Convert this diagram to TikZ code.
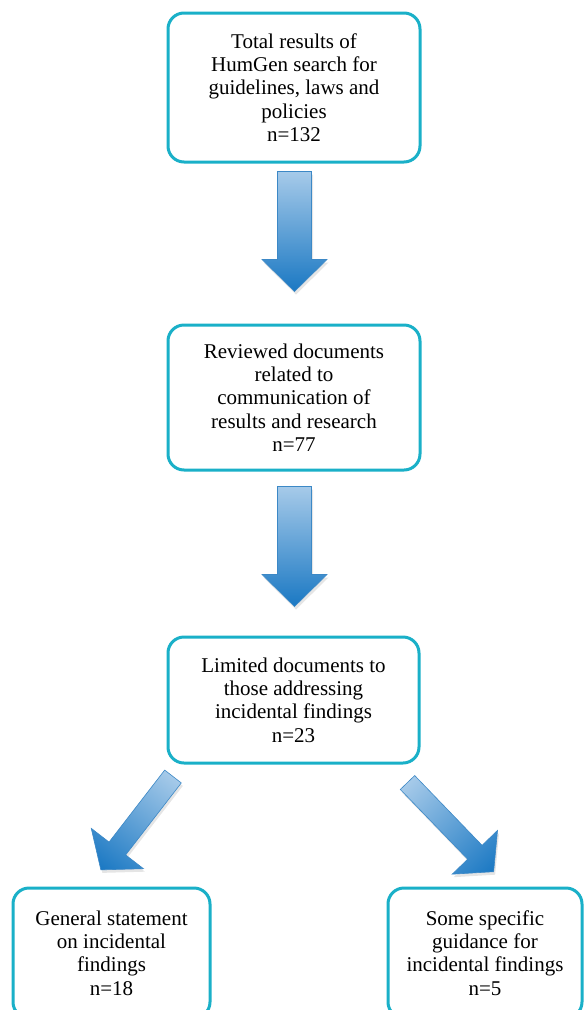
\documentclass[tikz,border=0pt]{standalone}
\usepackage{fontspec}
\setmainfont{Liberation Serif}
\usetikzlibrary{calc}
\definecolor{boxc}{HTML}{1AB0C8}
\definecolor{arlight}{HTML}{A6CAE9}
\definecolor{armid}{HTML}{5A9FD7}
\definecolor{ardark}{HTML}{1A78C3}
\definecolor{aredge}{HTML}{3C88C6}
\newcommand\blkarrow[6]{%
  \fill[black,opacity=0.10,transform canvas={shift={($(#1)+(1.5,-3)$)},rotate=#2}]
    (0,#4/2) -- (#3-#6,#4/2) -- (#3-#6,#5/2) -- (#3,0) -- (#3-#6,-#5/2) -- (#3-#6,-#4/2) -- (0,-#4/2) -- cycle;
  \shade[arrowsty,transform canvas={shift={(#1)},rotate=#2}]
    (0,#4/2) -- (#3-#6,#4/2) -- (#3-#6,#5/2) -- (#3,0) -- (#3-#6,-#5/2) -- (#3-#6,-#4/2) -- (0,-#4/2) -- cycle;
}
\tikzset{
  box/.style={draw=boxc,line width=3pt,rounded corners=16pt,fill=white,align=center,inner sep=0pt,
    font=\fontsize{21}{23.3}\selectfont},
  arrowsty/.style={left color=arlight,middle color=armid,right color=ardark,draw=aredge,line width=0.6pt,line join=miter}
}
\begin{document}
\begin{tikzpicture}[x=1pt,y=1pt]
\useasboundingbox (0,0) rectangle (584,-1010);
\fill[white] (0,0) rectangle (584,-1010);
\node[box,minimum width=252pt,minimum height=149pt] (b1) at (294,-87.5)
  {Total results of\\HumGen search for\\guidelines, laws and\\policies\\n=132};
\node[box,minimum width=252pt,minimum height=145pt] (b2) at (294,-397.5)
  {Reviewed documents\\related to\\communication of\\results and research\\n=77};
\node[box,minimum width=251pt,minimum height=126pt] (b3) at (293.5,-700)
  {Limited documents to\\those addressing\\incidental findings\\n=23};
\node[box,minimum width=197pt,minimum height=130pt] (b4) at (111.5,-953)
  {General statement\\on incidental\\findings\\n=18};
\node[box,minimum width=194pt,minimum height=130pt] (b5) at (485,-953)
  {Some specific\\guidance for\\incidental findings\\n=5};
\coordinate (t1) at ($(b1.south)+(0.5,-8)$);
\coordinate (t2) at ($(b2.south)+(0.5,-15)$);
\coordinate (t3) at ($(b3.south west)+(6.5,-12)$);
\coordinate (t4) at ($(b3.south east)+(-13,-18)$);
\blkarrow{t1}{-90}{120}{34}{65}{32}
\blkarrow{t2}{-90}{120}{34}{65}{32}
\blkarrow{t3}{-127.7}{118}{21}{66}{27}
\blkarrow{t4}{-46}{124}{20}{63}{27}
\end{tikzpicture}
\end{document}
